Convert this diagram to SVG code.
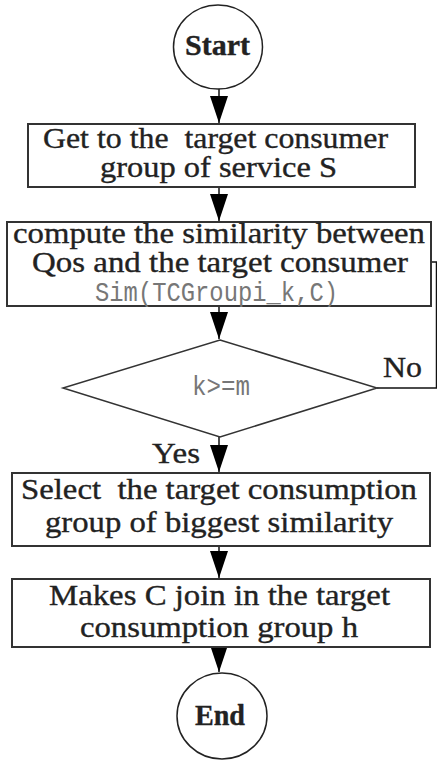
<svg xmlns="http://www.w3.org/2000/svg" width="437" height="761" viewBox="0 0 437 761">
  <style>
    .box { fill: #fff; stroke: #333; stroke-width: 2; }
    .term { fill: #fff; stroke: #222; stroke-width: 1.5; }
    .lbl { font-family: "Liberation Serif", "Times New Roman", serif; font-size: 29px; fill: #222; stroke: #222; stroke-width: 0.35; white-space: pre; }
    .bold { font-weight: bold; }
    .mono { font-family: "Liberation Mono", "Courier New", monospace; font-size: 28px; fill: #777; }
    .wire { fill: none; stroke: #111; stroke-width: 1.5; }
  </style>
  <defs>
    <marker id="head" markerUnits="userSpaceOnUse" markerWidth="27" markerHeight="18" viewBox="0 0 27 18" refX="27" refY="9" orient="auto">
      <path d="M0,0 L27,9 L0,18 z" fill="#000"/>
    </marker>
  </defs>
  <rect width="437" height="761" fill="#fff"/>

  <g id="connectors">
    <line class="wire" x1="219" y1="89" x2="219" y2="123" marker-end="url(#head)"/>
    <line class="wire" x1="219" y1="187" x2="219" y2="221" marker-end="url(#head)"/>
    <line class="wire" x1="219" y1="306" x2="219" y2="339" marker-end="url(#head)"/>
    <line class="wire" x1="219" y1="437" x2="219" y2="472" marker-end="url(#head)"/>
    <line class="wire" x1="219" y1="546" x2="219" y2="578" marker-end="url(#head)"/>
    <line class="wire" x1="219" y1="647" x2="219" y2="672" marker-end="url(#head)"/>
    <polyline class="wire" points="377,388 436.5,388 436.5,262 431,262"/>
    <text class="lbl" x="152" y="463" textLength="48" lengthAdjust="spacingAndGlyphs">Yes</text>
    <text class="lbl" x="383" y="377" textLength="39" lengthAdjust="spacingAndGlyphs">No</text>
  </g>

  <g id="start">
    <ellipse class="term" cx="218" cy="47" rx="44.5" ry="42"/>
    <text class="lbl bold" x="185" y="55" textLength="65" lengthAdjust="spacingAndGlyphs">Start</text>
  </g>

  <g id="get-group">
    <rect class="box" x="28" y="124" width="387" height="63"/>
    <text class="lbl" x="43" y="148" textLength="345" lengthAdjust="spacingAndGlyphs">Get to the  target consumer</text>
    <text class="lbl" x="100" y="177" textLength="237" lengthAdjust="spacingAndGlyphs">group of service S</text>
  </g>

  <g id="compute-sim">
    <rect class="box" x="7" y="222" width="424" height="84"/>
    <text class="lbl" x="13" y="243" textLength="412" lengthAdjust="spacingAndGlyphs">compute the similarity between</text>
    <text class="lbl" x="32" y="272" textLength="376" lengthAdjust="spacingAndGlyphs">Qos and the target consumer</text>
    <text class="mono" x="95" y="301" textLength="243" lengthAdjust="spacingAndGlyphs">Sim(TCGroupi_k,C)</text>
  </g>

  <g id="check-k">
    <polygon class="box" points="220,340 377,388 220,437 63,388" style="stroke-width:1.5"/>
    <text class="mono" x="192" y="395" textLength="58" lengthAdjust="spacingAndGlyphs">k&gt;=m</text>
  </g>

  <g id="select-group">
    <rect class="box" x="12" y="473" width="418" height="73"/>
    <text class="lbl" x="21" y="499" textLength="396" lengthAdjust="spacingAndGlyphs">Select  the target consumption</text>
    <text class="lbl" x="45" y="532" textLength="348" lengthAdjust="spacingAndGlyphs">group of biggest similarity</text>
  </g>

  <g id="join-group">
    <rect class="box" x="12" y="579" width="418" height="68"/>
    <text class="lbl" x="49" y="605" textLength="341" lengthAdjust="spacingAndGlyphs">Makes C join in the target</text>
    <text class="lbl" x="80" y="637" textLength="278" lengthAdjust="spacingAndGlyphs">consumption group h</text>
  </g>

  <g id="end">
    <ellipse class="term" cx="222" cy="716" rx="45" ry="43"/>
    <text class="lbl bold" x="195" y="725" textLength="50" lengthAdjust="spacingAndGlyphs">End</text>
  </g>
</svg>
